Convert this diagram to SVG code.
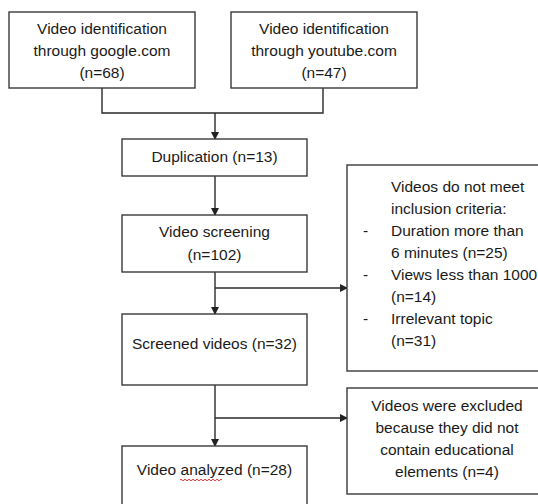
<svg xmlns="http://www.w3.org/2000/svg" width="538" height="504" viewBox="0 0 538 504">
<defs>
<marker id="ah" markerWidth="8" markerHeight="8" refX="7" refY="4" orient="auto" markerUnits="userSpaceOnUse">
<path d="M0,0 L8,4 L0,8 Z" fill="#222"/>
</marker>
<style>
.box{fill:#fff;stroke:#3a3a3a;stroke-width:1.4}
.t{font-family:"Liberation Sans",Arial,sans-serif;font-size:15.5px;fill:#1a1a1a}
.c{text-anchor:middle}
.ln{fill:none;stroke:#2a2a2a;stroke-width:1.4}
</style>
</defs>
<rect width="538" height="504" fill="#fff"/>
<g id="connectors">
<polyline class="ln" points="102,88 102,113 323,113 323,88"/>
<line class="ln" x1="215" y1="113" x2="215" y2="139" marker-end="url(#ah)"/>
<line class="ln" x1="215" y1="176" x2="215" y2="215" marker-end="url(#ah)"/>
<line class="ln" x1="215" y1="272" x2="215" y2="314" marker-end="url(#ah)"/>
<line class="ln" x1="215" y1="288" x2="347" y2="288" marker-end="url(#ah)"/>
<line class="ln" x1="215" y1="385" x2="215" y2="446" marker-end="url(#ah)"/>
<line class="ln" x1="215" y1="418" x2="347" y2="418" marker-end="url(#ah)"/>
</g>
<g id="google">
<rect class="box" x="9" y="12" width="186" height="76"/>
<text class="t c" x="102" y="34">Video identification</text>
<text class="t c" x="102" y="56">through google.com</text>
<text class="t c" x="102" y="78">(n=68)</text>
</g>
<g id="youtube">
<rect class="box" x="231" y="12" width="186" height="76"/>
<text class="t c" x="324" y="34">Video identification</text>
<text class="t c" x="324" y="56">through youtube.com</text>
<text class="t c" x="324" y="78">(n=47)</text>
</g>
<g id="duplication">
<rect class="box" x="122" y="139" width="185" height="37"/>
<text class="t c" x="214.5" y="162">Duplication (n=13)</text>
</g>
<g id="screening">
<rect class="box" x="122" y="215" width="185" height="57"/>
<text class="t c" x="214.5" y="237">Video screening</text>
<text class="t c" x="214.5" y="260">(n=102)</text>
</g>
<g id="criteria">
<rect class="box" x="347" y="165" width="200" height="206"/>
<text class="t" x="391" y="192">Videos do not meet</text>
<text class="t" x="391" y="214">inclusion criteria:</text>
<text class="t" x="363" y="236">-</text>
<text class="t" x="391" y="236">Duration more than</text>
<text class="t" x="391" y="258">6 minutes (n=25)</text>
<text class="t" x="363" y="280">-</text>
<text class="t" x="391" y="280">Views less than 1000</text>
<text class="t" x="391" y="302">(n=14)</text>
<text class="t" x="363" y="324">-</text>
<text class="t" x="391" y="324">Irrelevant topic</text>
<text class="t" x="391" y="346">(n=31)</text>
</g>
<g id="screened">
<rect class="box" x="122" y="314" width="185" height="71"/>
<text class="t c" x="214.5" y="349">Screened videos (n=32)</text>
</g>
<g id="excluded">
<rect class="box" x="347" y="388" width="200" height="106"/>
<text class="t c" x="447" y="411">Videos were excluded</text>
<text class="t c" x="447" y="433">because they did not</text>
<text class="t c" x="447" y="455">contain educational</text>
<text class="t c" x="447" y="477">elements (n=4)</text>
</g>
<g id="analyzed">
<rect class="box" x="122" y="446" width="185" height="70"/>
<text class="t c" x="214.5" y="475">Video analyzed (n=28)</text>
<path d="M180,480 q1,-1.5 2,0 t2,0 t2,0 t2,0 t2,0 t2,0 t2,0 t2,0 t2,0 t2,0 t2,0 t2,0 t2,0 t2,0 t2,0 t2,0 t2,0 t2,0 t2,0 t2,0 t2,0" fill="none" stroke="#d42020" stroke-width="0.9"/>
</g>
</svg>
